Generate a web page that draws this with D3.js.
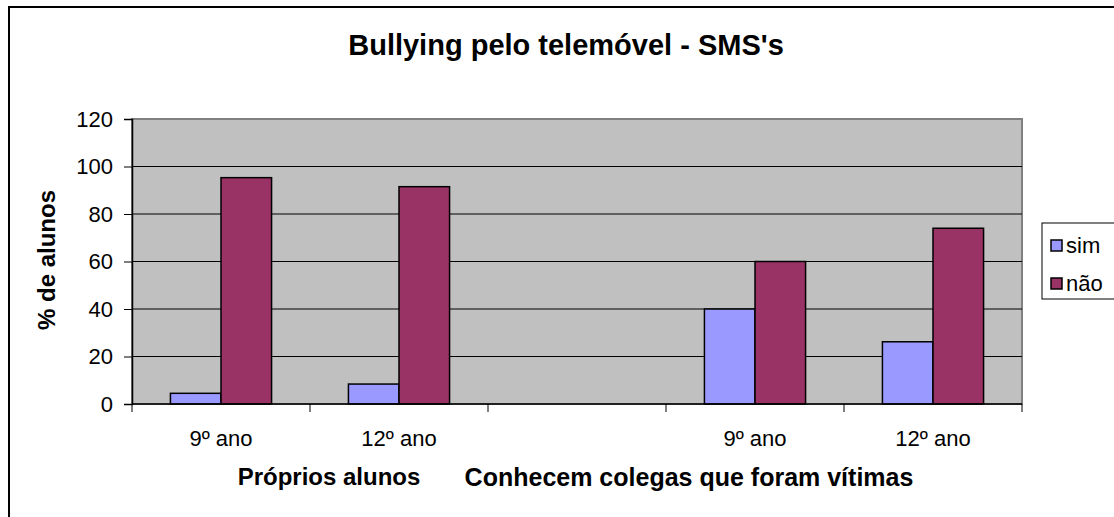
<!DOCTYPE html>
<html>
<head>
<meta charset="utf-8">
<script src="https://cdn.jsdelivr.net/npm/d3@7"></script>
<style>
  body { margin: 0; background: #fff; }
  text { font-family: "Liberation Sans", Arial, sans-serif; fill: #000; }
</style>
</head>
<body>
<div id="chart"></div>
<script>
const categories = ["9º ano", "12º ano", "", "9º ano", "12º ano"]
const seriesNames = ["sim", "não"]
const simValues = [4.5, 8.4, null, 40, 26.2]
const naoValues = [95.3, 91.5, null, 60, 74]
const yTicks = [0, 20, 40, 60, 80, 100, 120]
const groupLabels = [
    { name: "Próprios alunos", x: 329, size: 24 },
    { name: "Conhecem colegas que foram vítimas", x: 689, size: 25 }
]
const colors = { "sim": "#9999ff", "não": "#993366" }

const width = 1114, height = 517
const plot = { left: 132, top: 119, right: 1022, bottom: 404 }

const svg = d3.select("#chart")
    .append("svg")
    .attr("width", width)
    .attr("height", height)

// outer chart frame (runs off the right and bottom edges)
svg.append("rect")
    .attr("x", 9).attr("y", 7)
    .attr("width", 1200).attr("height", 600)
    .attr("fill", "#fff")
    .attr("stroke", "#000")
    .attr("stroke-width", 2)

const data = categories.map((c, i) => ({ idx: i, label: c, "sim": simValues[i], "não": naoValues[i] }))

const x0 = d3.scaleBand()
    .domain(data.map(d => d.idx))
    .range([plot.left, plot.right])
    .padding(0)

const x1 = d3.scaleBand()
    .domain(seriesNames)
    .range([0, x0.bandwidth()])
    .paddingInner(0)
    .paddingOuter(0.76)

const y = d3.scaleLinear()
    .domain([0, 120])
    .range([plot.bottom, plot.top])

// plot area
svg.append("rect")
    .attr("x", plot.left).attr("y", plot.top)
    .attr("width", plot.right - plot.left)
    .attr("height", plot.bottom - plot.top)
    .attr("fill", "#c0c0c0")
    .attr("stroke", "#808080")
    .attr("stroke-width", 2)

// gridlines
svg.append("g")
    .selectAll("line")
    .data(yTicks.filter(t => t > 0 && t < 120))
    .enter().append("line")
    .attr("x1", plot.left).attr("x2", plot.right)
    .attr("y1", d => y(d)).attr("y2", d => y(d))
    .attr("stroke", "#000")
    .attr("stroke-width", 1)

// bars
const groups = svg.append("g")
    .selectAll("g")
    .data(data)
    .enter().append("g")
    .attr("transform", d => `translate(${x0(d.idx)},0)`)

groups.selectAll("rect")
    .data(d => seriesNames.filter(k => d[k] != null).map(k => ({ key: k, value: d[k] })))
    .enter().append("rect")
    .attr("x", d => x1(d.key))
    .attr("y", d => y(d.value))
    .attr("width", x1.bandwidth())
    .attr("height", d => y(0) - y(d.value))
    .attr("fill", d => colors[d.key])
    .attr("stroke", "#000")
    .attr("stroke-width", 1.5)

// y axis
const yAxis = svg.append("g")
    .attr("transform", `translate(${plot.left},0)`)
    .call(d3.axisLeft(y).tickValues(yTicks).tickSize(8).tickPadding(11))
yAxis.select(".domain").attr("stroke", "#000").attr("stroke-width", 1.5)
yAxis.selectAll(".tick line").attr("stroke", "#000")
yAxis.selectAll(".tick text")
    .style("font-family", "Liberation Sans, Arial, sans-serif")
    .style("font-size", "22px")

// x axis (category boundaries as ticks)
const xAxis = svg.append("g")
    .attr("transform", `translate(0,${plot.bottom})`)
xAxis.append("line")
    .attr("x1", plot.left).attr("x2", plot.right)
    .attr("stroke", "#000").attr("stroke-width", 1.5)
xAxis.selectAll("line.tick")
    .data(data.map(d => x0(d.idx)).concat([plot.right]))
    .enter().append("line")
    .attr("class", "tick")
    .attr("x1", d => d).attr("x2", d => d)
    .attr("y1", 0).attr("y2", 8)
    .attr("stroke", "#000")

xAxis.selectAll("text")
    .data(data)
    .enter().append("text")
    .attr("x", d => x0(d.idx) + x0.bandwidth() / 2)
    .attr("y", 34)
    .attr("dy", "0.35em")
    .attr("text-anchor", "middle")
    .style("font-size", "22px")
    .text(d => d.label)

// group labels
svg.append("g")
    .selectAll("text")
    .data(groupLabels)
    .enter().append("text")
    .attr("x", d => d.x)
    .attr("y", 477)
    .attr("dy", "0.35em")
    .attr("text-anchor", "middle")
    .style("font-size", d => d.size + "px")
    .style("font-weight", "bold")
    .text(d => d.name)

// title
svg.append("text")
    .attr("x", 566)
    .attr("y", 45)
    .attr("dy", "0.35em")
    .attr("text-anchor", "middle")
    .style("font-size", "29px")
    .style("font-weight", "bold")
    .text("Bullying pelo telemóvel - SMS's")

// y axis title
svg.append("text")
    .attr("transform", "translate(47,260) rotate(-90)")
    .attr("dy", "0.35em")
    .attr("text-anchor", "middle")
    .style("font-size", "24px")
    .style("font-weight", "bold")
    .text("% de alunos")

// legend
const legend = svg.append("g")
    .attr("transform", "translate(1042,223)")

legend.append("rect")
    .attr("width", 120).attr("height", 76)
    .attr("fill", "#fff")
    .attr("stroke", "#000")
    .attr("stroke-width", 1)

legend.selectAll("rect.key")
    .data(seriesNames)
    .enter().append("rect")
    .attr("class", "key")
    .attr("x", 9)
    .attr("y", (d, i) => 17 + i * 38)
    .attr("width", 11).attr("height", 11)
    .attr("fill", d => colors[d])
    .attr("stroke", "#000")
    .attr("stroke-width", 1.5)

legend.selectAll("text")
    .data(seriesNames)
    .enter().append("text")
    .attr("x", 24)
    .attr("y", (d, i) => 22 + i * 38)
    .attr("dy", "0.35em")
    .style("font-size", "22px")
    .text(d => d)
</script>
</body>
</html>
